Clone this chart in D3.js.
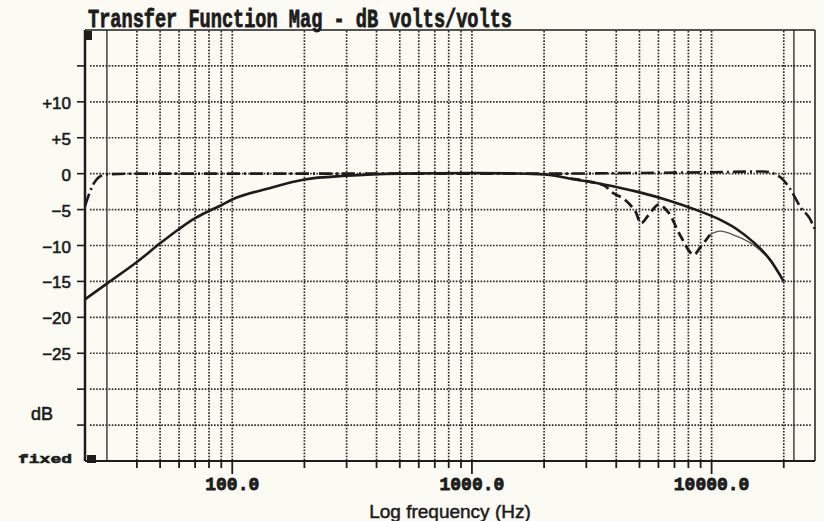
<!DOCTYPE html>
<html>
<head>
<meta charset="utf-8">
<script src="https://cdn.jsdelivr.net/npm/d3@7"></script>
<style>
  html, body { margin: 0; padding: 0; background: #fbfbf4; }
  svg { display: block; }
</style>
</head>
<body>
<svg id="chart" width="824" height="521"></svg>
<script>
// Frequency range of the plot (Hz) and level range (dB)
const freqDomain = [24.3, 27000];
const dbDomain = [-40, 20];

// Dotted grid
const gridFreqs = [40, 50, 60, 70, 80, 90, 100, 200, 300, 400, 500, 600, 700, 800, 900,
                   1000, 2000, 3000, 4000, 5000, 6000, 7000, 8000, 9000, 10000, 20000];
const decadeFreqs = [100, 1000, 10000];
const decadeLabels = ["100.0", "1000.0", "10000.0"];
const cursorFreqs = [30, 22050];
const gridDb = [15, 10, 5, 0, -5, -10, -15, -20, -25, -30, -35];
const dbTickValues = [10, 5, 0, -5, -10, -15, -20, -25];
const dbTickText = ["+10", "+5", "0", "\u22125", "\u221210", "\u221215", "\u221220", "\u221225"];

// Overall response (solid)
const responseFreq = [24.3, 30, 40, 50, 60, 70, 80, 90, 100, 140, 200, 300, 500, 1000,
                      2000, 2576, 3548, 4877, 6717, 8390, 10830, 12700, 14900, 17460, 20000];
const responseDb = [-17.5, -15.3, -12.3, -9.7, -7.7, -6.2, -5.2, -4.4, -3.6, -2.1, -0.8, -0.3,
                    0, 0.1, -0.1, -0.7, -1.5, -2.5, -3.8, -4.9, -6.4, -7.7, -9.5, -11.9, -15.0];

// Response with notches (dashed), then its thin tail
const notchFreq = [2576, 3548, 3837, 4295, 4800, 5070, 5450, 6000, 6600, 7400, 8400, 9000, 9840];
const notchDb = [-0.7, -1.6, -2.6, -3.5, -5.2, -6.9, -5.8, -4.3, -5.4, -8.6, -11.3, -10.2, -8.5];
const tailFreq = [9840, 10830, 12700, 14900, 17460, 20000];
const tailDb = [-8.5, -8.0, -8.7, -9.9, -12.0, -15.0];

// Flat response (dash-dot)
const flatFreq = [24.3, 26.3, 28, 30, 40, 100, 1000, 2000, 5000, 10000, 16400, 19200, 21140,
                  23640, 25630, 27000];
const flatDb = [-4.5, -1.5, -0.4, -0.1, 0, 0, 0, 0, 0.1, 0.2, 0.3, -0.4, -2.0, -4.8, -6.2, -7.8];

const plotLeft = 85, plotRight = 815, plotTop = 30, plotBottom = 461;
const ink = "#1c1c1c";

const x = d3.scaleLog().domain(freqDomain).range([plotLeft, plotRight]);
const y = d3.scaleLinear().domain(dbDomain).range([plotBottom, plotTop]);

const svg = d3.select("#chart");

// Title
svg.append("text")
  .attr("x", 88).attr("y", 26.5)
  .attr("font-family", "'Liberation Mono', 'DejaVu Sans Mono', monospace")
  .attr("font-weight", "bold").attr("font-size", 25)
  .attr("textLength", 424).attr("lengthAdjust", "spacingAndGlyphs")
  .attr("fill", ink).attr("stroke", ink).attr("stroke-width", 0.8)
  .text("Transfer Function Mag - dB volts/volts");

// Horizontal dotted grid
svg.append("g").selectAll("line").data(gridDb).join("line")
  .attr("x1", plotLeft + 5).attr("x2", plotRight - 3)
  .attr("y1", d => y(d)).attr("y2", d => y(d))
  .attr("stroke", "#2a2a2a").attr("stroke-width", 1.7)
  .attr("stroke-dasharray", "1.6,1.5");

// Vertical dotted grid
svg.append("g").selectAll("line").data(gridFreqs).join("line")
  .attr("x1", d => x(d)).attr("x2", d => x(d))
  .attr("y1", plotTop + 1).attr("y2", plotBottom - 1)
  .attr("stroke", "#2a2a2a").attr("stroke-width", 1.7)
  .attr("stroke-dasharray", "1.6,1.5");

// Solid cursor lines
svg.append("g").selectAll("line").data(cursorFreqs).join("line")
  .attr("x1", d => x(d)).attr("x2", d => x(d))
  .attr("y1", plotTop).attr("y2", plotBottom)
  .attr("stroke", "#333").attr("stroke-width", 1.4);

// Frame
svg.append("line").attr("x1", plotLeft).attr("x2", plotRight).attr("y1", plotTop).attr("y2", plotTop)
  .attr("stroke", ink).attr("stroke-width", 1.5);
svg.append("line").attr("x1", plotRight).attr("x2", plotRight).attr("y1", plotTop).attr("y2", plotBottom)
  .attr("stroke", ink).attr("stroke-width", 1.5);
svg.append("line").attr("x1", plotLeft).attr("x2", plotRight).attr("y1", plotBottom).attr("y2", plotBottom)
  .attr("stroke", ink).attr("stroke-width", 2);
svg.append("line").attr("x1", plotLeft).attr("x2", plotLeft).attr("y1", plotTop).attr("y2", plotBottom)
  .attr("stroke", ink).attr("stroke-width", 2.5);

// Corner markers
svg.append("rect").attr("x", plotLeft).attr("y", plotTop + 1).attr("width", 7).attr("height", 9).attr("fill", ink);
svg.append("rect").attr("x", plotLeft + 2).attr("y", plotBottom - 6).attr("width", 9).attr("height", 8).attr("fill", ink);

// Left ticks and labels
svg.append("g").selectAll("line").data(gridDb).join("line")
  .attr("x1", plotLeft - 8).attr("x2", plotLeft)
  .attr("y1", d => y(d)).attr("y2", d => y(d))
  .attr("stroke", ink).attr("stroke-width", 1.6);
svg.append("g").selectAll("text").data(dbTickValues).join("text")
  .attr("x", 71).attr("y", d => y(d) + 1.5)
  .attr("text-anchor", "end").attr("dominant-baseline", "central")
  .attr("font-family", "'Liberation Sans', Arial, sans-serif").attr("font-size", 17)
  .attr("fill", ink).attr("stroke", ink).attr("stroke-width", 0.6)
  .text((d, i) => dbTickText[i]);

svg.append("text").attr("x", 42).attr("y", 419.5).attr("text-anchor", "middle")
  .attr("font-family", "'Liberation Sans', Arial, sans-serif").attr("font-size", 18)
  .attr("fill", ink).attr("stroke", ink).attr("stroke-width", 0.6).text("dB");

svg.append("text").attr("x", 18).attr("y", 463)
  .attr("font-family", "'Liberation Mono', 'DejaVu Sans Mono', monospace")
  .attr("font-weight", "bold").attr("font-size", 13)
  .attr("textLength", 54).attr("lengthAdjust", "spacingAndGlyphs")
  .attr("fill", ink).attr("stroke", ink).attr("stroke-width", 0.6).text("fixed");

// Bottom ticks and labels
svg.append("g").selectAll("line").data(gridFreqs).join("line")
  .attr("x1", d => x(d)).attr("x2", d => x(d))
  .attr("y1", plotBottom).attr("y2", d => decadeFreqs.includes(d) ? plotBottom + 13 : plotBottom + 7)
  .attr("stroke", ink).attr("stroke-width", 1.8);
svg.append("g").selectAll("text").data(decadeFreqs).join("text")
  .attr("x", d => x(d)).attr("y", 490)
  .attr("text-anchor", "middle")
  .attr("font-family", "'Liberation Mono', 'DejaVu Sans Mono', monospace")
  .attr("font-weight", "bold").attr("font-size", 18)
  .attr("fill", ink).attr("stroke", ink).attr("stroke-width", 0.8)
  .text((d, i) => decadeLabels[i]);

svg.append("text").attr("x", 450).attr("y", 518).attr("text-anchor", "middle")
  .attr("font-family", "'Liberation Sans', Arial, sans-serif").attr("font-size", 19)
  .attr("fill", ink).attr("stroke", ink).attr("stroke-width", 0.5)
  .text("Log frequency (Hz)");

// Curves
const smooth = d3.line().x(d => x(d[0])).y(d => y(d[1])).curve(d3.curveMonotoneX);
const bendy = d3.line().x(d => x(d[0])).y(d => y(d[1])).curve(d3.curveCatmullRom.alpha(0.5));
const zip = (f, v) => f.map((d, i) => [d, v[i]]);

svg.append("path").datum(zip(flatFreq, flatDb)).attr("d", smooth)
  .attr("fill", "none").attr("stroke", ink).attr("stroke-width", 2.6)
  .attr("stroke-dasharray", "13,4,2,4");

svg.append("path").datum(zip(tailFreq, tailDb)).attr("d", bendy)
  .attr("fill", "none").attr("stroke", "#555").attr("stroke-width", 1.3);

svg.append("path").datum(zip(notchFreq, notchDb)).attr("d", bendy)
  .attr("fill", "none").attr("stroke", ink).attr("stroke-width", 2.8)
  .attr("stroke-dasharray", "10,5");

svg.append("path").datum(zip(responseFreq, responseDb)).attr("d", smooth)
  .attr("fill", "none").attr("stroke", ink).attr("stroke-width", 2.6);
</script>
</body>
</html>
